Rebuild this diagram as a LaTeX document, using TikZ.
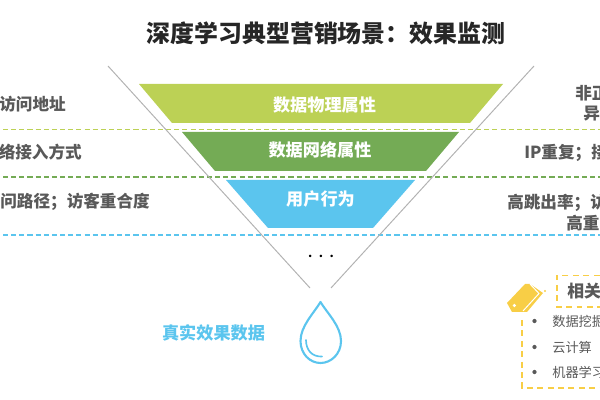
\documentclass[tikz,border=0pt]{standalone}
\usepackage{fontspec}
\setmainfont{Noto Sans CJK SC}
\definecolor{limegreen}{HTML}{BCD155}
\definecolor{leafgreen}{HTML}{74AB55}
\definecolor{skyblue}{HTML}{5BC5EE}
\definecolor{tagyellow}{HTML}{F8CE46}
\definecolor{labelgray}{HTML}{595959}
\tikzset{
    funnelside/.style={draw=black!30, line width=0.7pt},
    rowline/.style={dash pattern=on 3.6pt off 2.2pt, line width=0.9pt},
    layerlabel/.style={text=white, font=\fontsize{12.2}{14}\bfseries},
    rowlabel/.style={text=labelgray, font=\fontsize{11.8}{15}\bfseries, inner sep=0pt},
    tagbox/.style={draw=tagyellow, dash pattern=on 4.2pt off 3.2pt, line width=1.1pt},
    itemlabel/.style={text=labelgray, font=\fontsize{9.4}{11}\selectfont, inner sep=0pt, anchor=west},
    itemdot/.style={circle, fill=labelgray, inner sep=0pt, minimum size=3pt}
}
\begin{document}
\begin{tikzpicture}[x=0.025cm,y=-0.025cm]
    \useasboundingbox (0,0) rectangle (600,400);
    \clip (0,0) rectangle (600,400);

    \node (title) at (326,33) [text=black!85, font=\fontsize{17}{20}\bfseries] {深度学习典型营销场景：效果监测};

    % funnel layers
    \fill[limegreen] (139,84) -- (503,84) -- (470,123) -- (172,123) -- cycle;
    \fill[leafgreen] (182,132) -- (459,132) -- (426,171) -- (215,171) -- cycle;
    \fill[skyblue] (226,180) -- (415,180) -- (373,228) -- (268,228) -- cycle;
    \node (physical) at (324.5,105) [layerlabel] {数据物理属性};
    \node (network) at (320,150) [layerlabel] {数据网络属性};
    \node (behavior) at (320.5,199) [layerlabel] {用户行为};

    % row separators
    \draw[rowline, draw=limegreen] (3,129.5) -- (600,129.5);
    \draw[rowline, draw=leafgreen] (3,177) -- (600,177);
    \draw[rowline, draw=skyblue] (3,235) -- (600,235);

    % funnel sides
    \coordinate (lefttop) at (108,66);
    \coordinate (leftend) at (310,288);
    \coordinate (righttop) at (534,66);
    \coordinate (rightend) at (331,288);
    \draw[funnelside] (lefttop) -- (leftend);
    \draw[funnelside] (righttop) -- (rightend);
    \node (dots) at (321,257.5) [text=black, inner sep=0pt, font=\fontsize{17}{17}\selectfont] {$\cdots$};

    % left column
    \node (addr) at (66,104.5) [rowlabel, anchor=east] {访问地址};
    \node (access) at (82,152.5) [rowlabel, anchor=east] {络接入方式};
    \node (path) at (150,202) [rowlabel, anchor=east] {问路径；访客重合度};

    % right column
    \node (abnormal) at (575,93) [rowlabel, anchor=west] {非正};
    \node (abnormalb) at (583,114) [rowlabel, anchor=west] {异};
    \node (repeat) at (524,152.5) [rowlabel, anchor=west] {IP重复；接};
    \node (bounce) at (507,203) [rowlabel, anchor=west] {高跳出率；访};
    \node (bounceb) at (566,223) [rowlabel, anchor=west] {高重};

    % water drop
    \node (truedata) at (213.5,333) [text=skyblue, font=\fontsize{12.2}{14}\bfseries] {真实效果数据};
    \draw[skyblue, line width=1.5pt, line join=round] (320.5,302)
        .. controls (314,313) and (300.5,326) .. (300.5,341)
        .. controls (300.5,354) and (310,363) .. (320.5,363)
        .. controls (331,363) and (341,354) .. (341,341)
        .. controls (341,326) and (327,313) .. (320.5,302) -- cycle;
    \draw[skyblue, line width=1.2pt, line cap=round] (306,340) .. controls (306,350) and (312,357) .. (322,356.5);

    % tag with its two boxes
    \fill[tagyellow] (507,303) -- (525,284) -- (530,284) -- (543,293) -- (527,312) -- (512,312) -- cycle;
    \draw[white, line width=0.7pt] (530,284) -- (539,293.5) -- (523,311);
    \fill[white] (514.3,305.5) circle (1.8);
    \fill[tagyellow] (545,291) circle (1.2);
    \draw[tagbox] (610,275.5) -- (557,275.5) -- (557,307) -- (610,307);
    \draw[tagbox] (522,320) -- (522,388) -- (610,388);
    \node (related) at (567,291) [rowlabel, anchor=west, font=\fontsize{12}{14}\bfseries] {相关};

    \node (mining) at (552,321) [itemlabel] {数据挖掘};
    \node (cloud) at (552,347) [itemlabel] {云计算};
    \node (learning) at (552,372) [itemlabel] {机器学习};
    \node[itemdot] at (534.5,321) {};
    \node[itemdot] at (534.5,347) {};
    \node[itemdot] at (534.5,372) {};
\end{tikzpicture}
\end{document}
